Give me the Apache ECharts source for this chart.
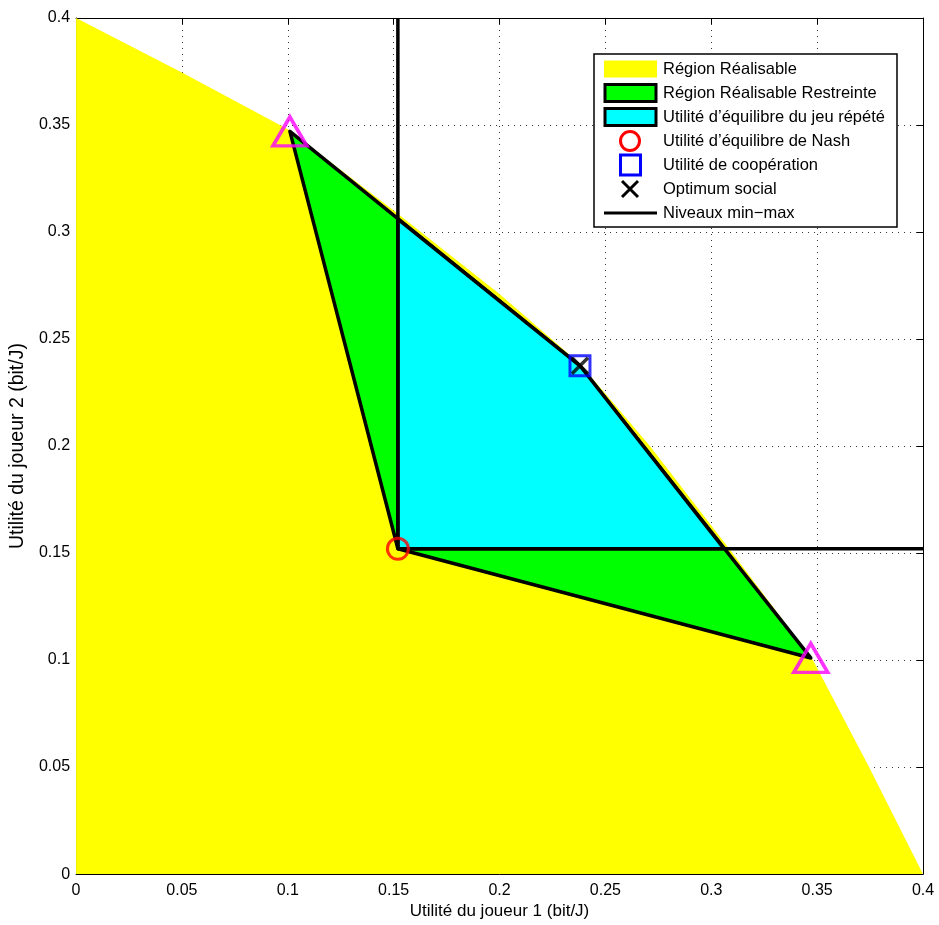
<!DOCTYPE html>
<html><head><meta charset="utf-8">
<script src="https://cdn.jsdelivr.net/npm/echarts@6/dist/echarts.min.js"></script>
<style>html,body{margin:0;padding:0;background:#fff}#c{width:939px;height:925px}</style>
</head><body><div id="c"></div>
<script>
// ---- data ----
const tickValues = [0, 0.05, 0.1, 0.15, 0.2, 0.25, 0.3, 0.35, 0.4];
const feasibleX = [0, 0.05, 0.1, 0.15, 0.2, 0.238, 0.271, 0.31, 0.348, 0.3745, 0.4];
const feasibleY = [0.4, 0.3745, 0.348, 0.31, 0.271, 0.2385, 0.2, 0.15, 0.1, 0.05, 0];
const restrictedX = [0.101, 0.152, 0.347, 0.238];
const restrictedY = [0.347, 0.152, 0.101, 0.2375];
const repeatedX = [0.152, 0.152, 0.238, 0.306];
const repeatedY = [0.152, 0.306, 0.2375, 0.152];
const minmaxVX = [0.152, 0.152], minmaxVY = [0.152, 0.4];
const minmaxHX = [0.152, 0.4], minmaxHY = [0.152, 0.152];
const nashPt = [0.152, 0.152];
const coopPt = [0.238, 0.2375];
const socialPt = [0.238, 0.2375];
const extremeX = [0.101, 0.347];
const extremeY = [0.347, 0.101];
const legendNames = ['Région Réalisable', 'Région Réalisable Restreinte', 'Utilité d\u2019équilibre du jeu répété',
  'Utilité d\u2019équilibre de Nash', 'Utilité de coopération', 'Optimum social', 'Niveaux min\u2212max'];

const zip = (xs, ys) => xs.map((x, i) => [x, ys[i]]);
const FONT = '"Liberation Sans", Arial, Helvetica, sans-serif';

function polySeries(xs, ys, fill, z) {
  const pts = zip(xs, ys);
  return {
    type: 'custom', z: z, data: pts, silent: true,
    renderItem: function (params, api) {
      if (params.dataIndex !== 0) return null;
      return {
        type: 'polygon',
        shape: { points: pts.map(p => api.coord(p)) },
        style: { fill: fill, stroke: '#000', lineWidth: 3.5, lineJoin: 'round' }
      };
    }
  };
}

const axisCommon = {
  type: 'value', min: 0, max: 0.4, interval: 0.05,
  axisLine: { show: true, onZero: false, lineStyle: { color: '#000', width: 1 } },
  axisTick: { show: true, inside: true, length: 6, lineStyle: { color: '#000' } },
};

const xPath = 'path://M0,0 L10,10 M10,0 L0,10';

const chart = echarts.init(document.getElementById('c'));
const L = { x: 604, w: 53, tx: 663, y0: 69, dy: 24 };
const legendGraphics = [
  { type: 'rect', shape: { x: 594, y: 54, width: 303, height: 173 }, style: { fill: '#fff', stroke: '#000', lineWidth: 1.5 }, z: 100 }
];
legendNames.forEach((n, i) => {
  legendGraphics.push({ type: 'text', x: L.tx, y: L.y0 + i * L.dy, z: 101,
    style: { text: n, fill: '#000', font: '16.5px ' + FONT, verticalAlign: 'middle', align: 'left' } });
});
const cy = i => L.y0 + i * L.dy;
legendGraphics.push(
  { type: 'rect', z: 101, shape: { x: L.x, y: cy(0) - 8.5, width: L.w, height: 17 }, style: { fill: '#ffff00' } },
  { type: 'rect', z: 101, shape: { x: L.x + 1, y: cy(1) - 8.5, width: L.w - 2, height: 17 }, style: { fill: '#00ff00', stroke: '#000', lineWidth: 3 } },
  { type: 'rect', z: 101, shape: { x: L.x + 1, y: cy(2) - 8.5, width: L.w - 2, height: 17 }, style: { fill: '#00ffff', stroke: '#000', lineWidth: 3 } },
  { type: 'circle', z: 101, shape: { cx: 630, cy: cy(3), r: 9.5 }, style: { fill: 'none', stroke: '#ff0000', lineWidth: 3 } },
  { type: 'rect', z: 101, shape: { x: 620.5, y: cy(4) - 10, width: 20, height: 20 }, style: { fill: 'none', stroke: '#0000ff', lineWidth: 3 } },
  { type: 'polyline', z: 101, shape: { points: [[622, cy(5) - 8], [638, cy(5) + 8]] }, style: { stroke: '#000', lineWidth: 3 } },
  { type: 'polyline', z: 101, shape: { points: [[638, cy(5) - 8], [622, cy(5) + 8]] }, style: { stroke: '#000', lineWidth: 3 } },
  { type: 'line', z: 101, shape: { x1: L.x, y1: cy(6), x2: L.x + L.w, y2: cy(6) }, style: { stroke: '#000', lineWidth: 3 } }
);

chart.setOption({
  animation: false,
  backgroundColor: '#fff',
  grid: { left: 75, right: 16, top: 18, bottom: 48, containLabel: false },
  xAxis: [
    Object.assign({}, axisCommon, {
      position: 'bottom',
      name: 'Utilité du joueur 1 (bit/J)', nameLocation: 'middle', nameGap: 26,
      nameTextStyle: { fontFamily: FONT, fontSize: 17, color: '#000' },
      axisLabel: { fontFamily: FONT, fontSize: 16, color: '#000', margin: 8,
        formatter: v => tickValues.includes(+v.toFixed(2)) ? String(+v.toFixed(2)) : '' },
      splitLine: { show: true, lineStyle: { color: '#333', type: [1, 5], width: 1 } }
    }),
    Object.assign({}, axisCommon, { position: 'top', axisLabel: { show: false }, splitLine: { show: false } })
  ],
  yAxis: [
    Object.assign({}, axisCommon, {
      position: 'left',
      name: 'Utilité du joueur 2 (bit/J)', nameLocation: 'middle', nameGap: 45,
      nameTextStyle: { fontFamily: FONT, fontSize: 19.5, color: '#000' },
      axisLabel: { fontFamily: FONT, fontSize: 16, color: '#000', margin: 6,
        formatter: v => String(+v.toFixed(2)) },
      splitLine: { show: true, lineStyle: { color: '#333', type: [1, 5], width: 1 } }
    }),
    Object.assign({}, axisCommon, { position: 'right', axisLabel: { show: false }, splitLine: { show: false } })
  ],
  series: [
    { name: legendNames[0], type: 'line', z: 1, data: zip(feasibleX, feasibleY), symbol: 'none',
      lineStyle: { width: 0, color: '#ffff00' }, areaStyle: { color: '#ffff00', opacity: 1 }, itemStyle: { color: '#ffff00' } },
    Object.assign(polySeries(restrictedX, restrictedY, '#00ff00', 2), { name: legendNames[1] }),
    Object.assign(polySeries(repeatedX, repeatedY, '#00ffff', 3), { name: legendNames[2] }),
    { name: legendNames[6], type: 'line', z: 4, data: zip(minmaxVX, minmaxVY), symbol: 'none',
      lineStyle: { color: '#000', width: 3.5 } },
    { name: legendNames[6] + ' ', type: 'line', z: 4, data: zip(minmaxHX, minmaxHY), symbol: 'none',
      lineStyle: { color: '#000', width: 3.5 } },
    { name: legendNames[3], type: 'scatter', z: 5, data: [nashPt], symbol: 'circle', symbolSize: 21,
      itemStyle: { color: 'rgba(0,0,0,0)', borderColor: '#ff0000', borderWidth: 3 } },
    { name: legendNames[4], type: 'scatter', z: 5, data: [coopPt], symbol: 'rect', symbolSize: 20,
      itemStyle: { color: 'rgba(0,0,0,0)', borderColor: '#0000ff', borderWidth: 3 } },
    { name: legendNames[5], type: 'scatter', z: 6, data: [socialPt], symbol: xPath, symbolSize: 16,
      itemStyle: { color: 'rgba(0,0,0,0)', borderColor: '#000', borderWidth: 3.5 } },
    { name: 'extremes', type: 'scatter', z: 6, data: zip(extremeX, extremeY), symbol: 'triangle', symbolSize: [34, 29],
      itemStyle: { color: 'rgba(0,0,0,0)', borderColor: '#ff00ff', borderWidth: 3.5 } }
  ],
  graphic: legendGraphics
});
</script>
</body></html>
